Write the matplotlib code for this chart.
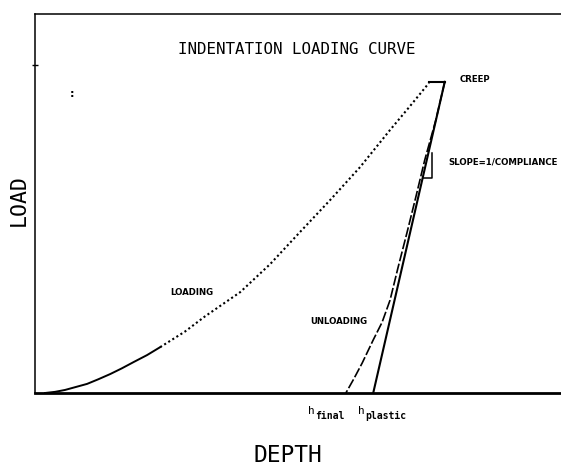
import matplotlib
matplotlib.use("Agg")
import matplotlib.pyplot as plt

# loading branch (depth, load), arbitrary units
load_depth = [1.9, 3.8, 5.7, 7.8, 9.9, 12.0, 14.3, 16.5, 18.8, 21.3, 23.8,
              28.5, 32.3, 39.0, 44.7, 50.4, 56.1, 61.8, 67.5, 71.3, 74.9]
load_force = [0.0, 0.3, 0.8, 1.6, 2.4, 3.6, 5.0, 6.5, 8.2, 10.0, 12.1,
              16.2, 20.2, 26.6, 34.0, 42.5, 50.9, 59.6, 69.4, 75.7, 81.8]
n_solid = 11  # the low-load part is traced as a continuous line

# hold at peak load
creep_depth = [74.9, 77.9]
creep_force = [82.0, 82.0]

# unloading branch
unload_depth = [77.9, 76.2, 74.1, 72.4, 70.7, 69.0, 67.5, 66.0, 64.3,
                62.2, 60.6, 59.1]
unload_force = [82.1, 72.0, 61.5, 51.7, 42.2, 33.0, 24.5, 18.7, 14.0,
                7.9, 3.7, 0.0]

# tangent to the top of the unloading curve
h_final = 59.1
h_plastic = 64.3
tangent_depth = [77.9, h_plastic]
tangent_force = [82.1, 0.0]

# slope triangle
tri_depth = [73.8, 75.5, 75.5]
tri_force = [56.7, 56.7, 63.3]

W, H = 561, 465
fig = plt.figure(figsize=(W / 100, H / 100), dpi=100)
ax = fig.add_axes([35 / W, (H - 393) / H, 1 - 35 / W, (393 - 14) / H])
ax.set_xlim(0, 100)
ax.set_ylim(0, 100)

ax.plot(load_depth[:n_solid], load_force[:n_solid], color="black", lw=1.4)
ax.plot(load_depth[n_solid - 1:], load_force[n_solid - 1:], color="black",
        lw=1.5, linestyle=(0, (1, 1.3)))
ax.plot(creep_depth, creep_force, color="black", lw=1.5)
ax.plot(unload_depth, unload_force, color="black", lw=1.2,
        linestyle=(0, (6, 1.5)))
ax.plot(tangent_depth, tangent_force, color="black", lw=1.5)
ax.plot(tri_depth, tri_force, color="black", lw=1.1)

ax.spines["right"].set_visible(False)
ax.spines["bottom"].set_linewidth(2.0)
ax.spines["left"].set_linewidth(1.1)
ax.spines["top"].set_linewidth(1.1)
ax.set_xticks([])
ax.set_yticks([86.5])
ax.set_yticklabels([])
ax.tick_params(axis="y", direction="inout", length=5, width=1)

small = dict(fontsize=6.2, fontweight="bold", family="DejaVu Sans",
             va="center", ha="left")
ax.text(80.8, 82.6, "CREEP", **small)
ax.text(78.5, 60.9, "SLOPE=1/COMPLIANCE", **small)
ax.text(25.7, 26.4, "LOADING", **small)
ax.text(52.3, 18.8, "UNLOADING", **small)
ax.text(7.0, 79.0, ":", fontsize=8, fontweight="bold", ha="center", va="center")

# depth markers under the axis: "h" with a lowered subscript
mono = "DejaVu Sans Mono"
for h, sub, dh in [(h_final, "final", 7.2), (h_plastic, "plastic", 2.9)]:
    ax.text(h - dh, -5.6, "h", fontsize=8, family=mono,
            ha="left", va="baseline")
    ax.text(h - dh + 1.3, -6.9, sub, fontsize=7, fontweight="bold",
            family=mono, ha="left", va="baseline")

fig.text(297 / W, 1 - 50 / H, "INDENTATION LOADING CURVE", family=mono,
         fontsize=11.4, ha="center", va="center")
fig.text(288 / W, 1 - 455 / H, "DEPTH", family=mono, fontsize=16.5,
         ha="center", va="center")
fig.text(19 / W, 1 - 200 / H, "LOAD", family=mono, fontsize=15.5,
         rotation=90, ha="center", va="center")

fig.savefig("out.png", dpi=100)
